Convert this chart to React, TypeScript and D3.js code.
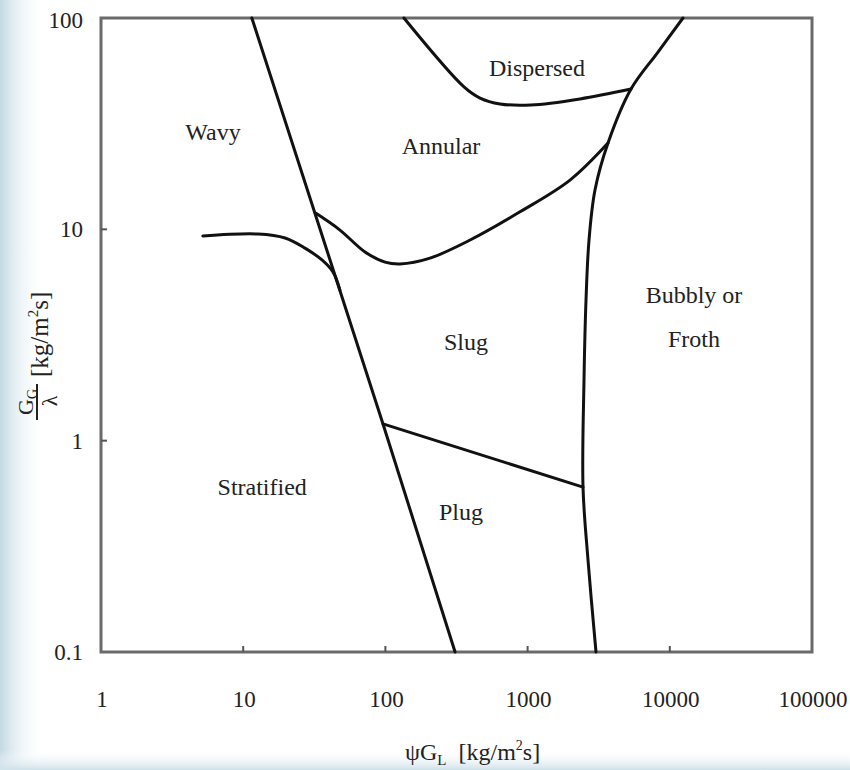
import React from "react";
import * as d3 from "d3";

// ---- axis ticks ----
const xTicks = [1, 10, 100, 1000, 10000, 100000];
const xTickLabels = ["1", "10", "100", "1000", "10000", "100000"];
const yTicks = [0.1, 1, 10, 100];
const yTickLabels = ["0.1", "1", "10", "100"];

// ---- boundary curves (data space: x = ψG_L, y = G_G/λ) ----
const mainBoundary: [number, number][] = [
  [11.5, 100],
  [96.2, 1.2],
  [309, 0.1],
];
const wavyStratified: [number, number][] = [
  [5.2, 9.3],
  [12.7, 9.5],
  [19.7, 9.1],
  [27.2, 8.15],
  [35.8, 7.16],
  [42.8, 6.28],
  [47.9, 5.16],
];
const annularSlug: [number, number][] = [
  [32.5, 11.9],
  [47.9, 9.92],
  [71.9, 7.81],
  [99.4, 7.0],
  [126.7, 6.86],
  [206, 7.31],
  [394, 8.9],
  [884, 12.1],
  [1987, 17.1],
  [3677, 25.6],
];
const dispersedBoundary: [number, number][] = [
  [135, 100],
  [357, 47.2],
  [463, 41.8],
  [640, 39.2],
  [1056, 38.75],
  [2336, 41.4],
  [5335, 46.1],
];
const bubblyBoundary: [number, number][] = [
  [12380, 100],
  [8260, 69.0],
  [5335, 46.1],
  [3677, 25.6],
  [2978, 15.35],
  [2703, 8.9],
  [2575, 4.63],
  [2493, 1.94],
  [2453, 0.603],
  [2660, 0.272],
  [3027, 0.1],
];
const slugPlug: [number, number][] = [
  [96.2, 1.2],
  [2453, 0.603],
];

// ---- region labels (anchor = text baseline centre) ----
const regionNames = ["Wavy", "Annular", "Dispersed", "Slug", "Bubbly or", "Froth", "Stratified", "Plug"];
const regionPos: [number, number][] = [
  [6.13, 26.5],
  [246, 22.7],
  [1164, 53.1],
  [369, 2.68],
  [14800, 4.48],
  [14800, 2.77],
  [13.6, 0.553],
  [340, 0.421],
];

export default function App() {
  const W = 850;
  const H = 770;
  const x = d3.scaleLog().domain([1, 100000]).range([101, 812]);
  const y = d3.scaleLog().domain([0.1, 100]).range([652, 18]);

  const straight = d3
    .line<[number, number]>()
    .x((d) => x(d[0]))
    .y((d) => y(d[1]));
  const smooth = d3
    .line<[number, number]>()
    .x((d) => x(d[0]))
    .y((d) => y(d[1]))
    .curve(d3.curveCatmullRom.alpha(0.5));

  const font = "'Liberation Serif', 'Times New Roman', serif";
  const textFill = "#222";
  const curveStroke = "#111";

  return (
    <svg
      width={W}
      height={H}
      style={{ position: "fixed", left: 0, top: 0, display: "block" }}
      fontFamily={font}
    >
      <defs>
        <linearGradient id="leftBg" gradientUnits="userSpaceOnUse" x1={0} y1={0} x2={45} y2={0}>
          <stop offset="0" stopColor="#c3d9e3" />
          <stop offset="0.3" stopColor="#e2edf2" />
          <stop offset="1" stopColor="#ffffff" stopOpacity="0" />
        </linearGradient>
        <linearGradient id="bottomBg" gradientUnits="userSpaceOnUse" x1={0} y1={750} x2={0} y2={770}>
          <stop offset="0" stopColor="#ffffff" stopOpacity="0" />
          <stop offset="1" stopColor="#cfe1e9" />
        </linearGradient>
      </defs>
      <rect x={0} y={0} width={W} height={H} fill="#ffffff" />
      <rect x={0} y={0} width={W} height={H} fill="url(#leftBg)" />
      <rect x={0} y={740} width={W} height={30} fill="url(#bottomBg)" />

      {/* plot frame */}
      <rect
        x={x(1)}
        y={y(100)}
        width={x(100000) - x(1)}
        height={y(0.1) - y(100)}
        fill="#ffffff"
        stroke="#6a6a6a"
        strokeWidth={3}
      />

      {/* ticks */}
      {xTicks.slice(1, -1).map((t) => (
        <line key={"xt" + t} x1={x(t)} x2={x(t)} y1={y(0.1)} y2={y(0.1) - 6} stroke="#555" strokeWidth={2} />
      ))}
      {yTicks.slice(1, -1).map((t) => (
        <line key={"yt" + t} x1={x(1)} x2={x(1) + 6} y1={y(t)} y2={y(t)} stroke="#555" strokeWidth={2} />
      ))}

      {/* tick labels */}
      {xTicks.map((t, i) => (
        <text key={"xl" + t} x={x(t) + 1} y={707} fontSize={23} textAnchor="middle" fill={textFill}>
          {xTickLabels[i]}
        </text>
      ))}
      {yTicks.map((t, i) => (
        <text
          key={"yl" + t}
          x={83}
          y={t === 100 ? y(t) + 10 : y(t) + 8}
          fontSize={23}
          textAnchor="end"
          fill={textFill}
        >
          {yTickLabels[i]}
        </text>
      ))}

      {/* boundaries */}
      <g fill="none" stroke={curveStroke} strokeWidth={3} strokeLinejoin="round" strokeLinecap="round">
        <path d={straight(mainBoundary) || ""} />
        <path d={smooth(wavyStratified) || ""} />
        <path d={smooth(annularSlug) || ""} />
        <path d={smooth(dispersedBoundary) || ""} />
        <path d={smooth(bubblyBoundary) || ""} />
        <path d={straight(slugPlug) || ""} />
      </g>

      {/* region labels */}
      {regionNames.map((name, i) => (
        <text
          key={name}
          x={x(regionPos[i][0])}
          y={y(regionPos[i][1])}
          fontSize={24}
          textAnchor="middle"
          fill={textFill}
        >
          {name}
        </text>
      ))}

      {/* x axis title */}
      <text x={405} y={760} fontSize={24} fill={textFill}>
        ψG
        <tspan fontSize={15} dy={5}>L</tspan>
        <tspan dx={12} dy={-5}>[kg/m</tspan>
        <tspan fontSize={14} dy={-10}>2</tspan>
        <tspan dy={10}>s]</tspan>
      </text>

      {/* y axis title (rotated) */}
      <g transform="translate(38,0) rotate(-90)" fill={textFill}>
        <text x={-402} y={-5} fontSize={22} textAnchor="middle">
          G<tspan fontSize={14} dy={4}>G</tspan>
        </text>
        <line x1={-420} x2={-384} y1={-1} y2={-1} stroke={textFill} strokeWidth={2} />
        <text x={-401} y={19} fontSize={22} textAnchor="middle">
          λ
        </text>
        <text x={-377} y={10} fontSize={25} textAnchor="start">
          [kg/m<tspan fontSize={15} dy={-10}>2</tspan>
          <tspan dy={10}>s]</tspan>
        </text>
      </g>
    </svg>
  );
}
